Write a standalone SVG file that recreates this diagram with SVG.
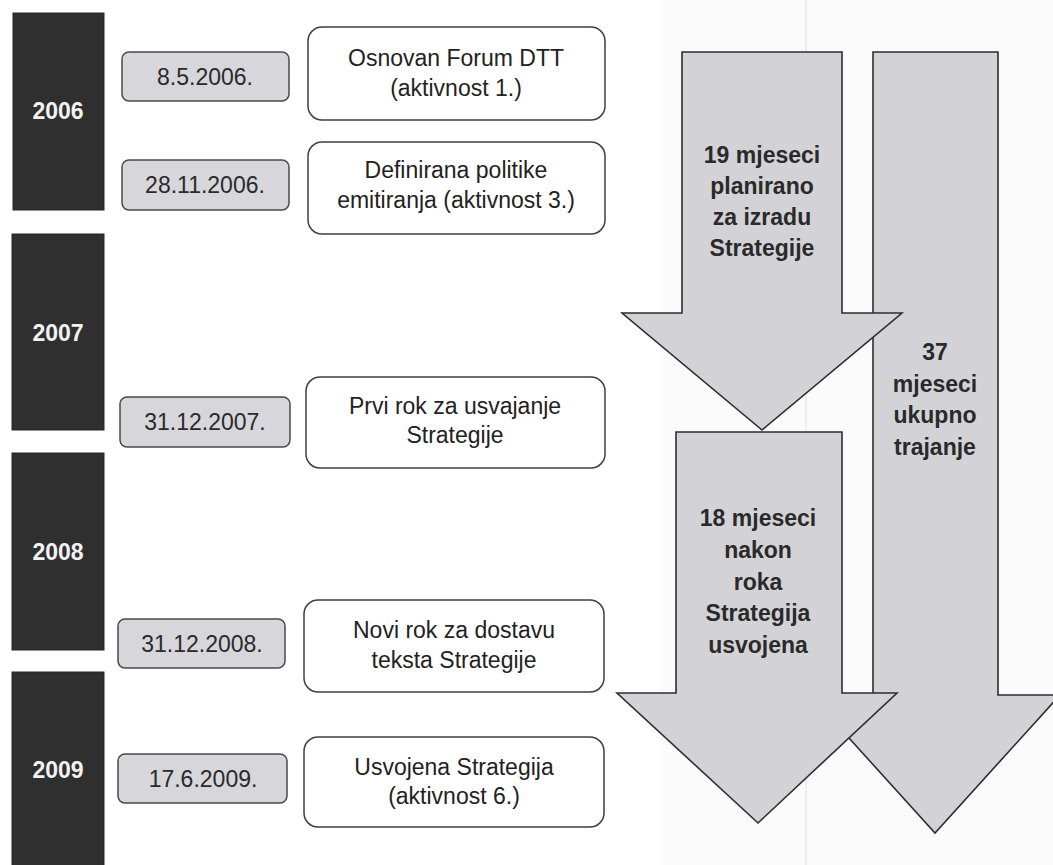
<svg xmlns="http://www.w3.org/2000/svg" width="1053" height="865" viewBox="0 0 1053 865">
<style>
.year{fill:#2f2f2f;stroke:#262626;stroke-width:1}
.ytxt{font-family:"Liberation Sans",Arial,sans-serif;font-weight:bold;font-size:23px;fill:#f2f2f2;text-anchor:middle}
.date{fill:#d6d6db;stroke:#4a4a4a;stroke-width:1.5}
.dtxt{font-family:"Liberation Sans",Arial,sans-serif;font-size:23px;fill:#2a2a2a;text-anchor:middle}
.ev{fill:#ffffff;stroke:#3f3f3f;stroke-width:1.5}
.etxt{font-family:"Liberation Sans",Arial,sans-serif;font-size:23px;fill:#222;text-anchor:middle}
.arr{fill:#d3d3d7;stroke:#2e2e2e;stroke-width:1.6;stroke-linejoin:miter}
.atxt{font-family:"Liberation Sans",Arial,sans-serif;font-weight:bold;font-size:23px;fill:#2a2a2a;text-anchor:middle}
</style>
<rect x="0" y="0" width="1053" height="865" fill="#ffffff"/>
<rect x="660" y="0" width="393" height="865" fill="#fbfbfb"/>
<line x1="806" y1="0" x2="806" y2="865" stroke="#e8e8e8" stroke-width="1.5"/>

<g id="year-2006"><rect class="year" x="13" y="13" width="91" height="197"/><text class="ytxt" x="58" y="119">2006</text></g>
<g id="year-2007"><rect class="year" x="12" y="234" width="92" height="196"/><text class="ytxt" x="58" y="341">2007</text></g>
<g id="year-2008"><rect class="year" x="12" y="453" width="92" height="197"/><text class="ytxt" x="58" y="560">2008</text></g>
<g id="year-2009"><rect class="year" x="12" y="672" width="92" height="200"/><text class="ytxt" x="58" y="778">2009</text></g>

<g id="date-1"><rect class="date" x="122" y="52" width="167" height="49" rx="7"/><text class="dtxt" x="205" y="85">8.5.2006.</text></g>
<g id="date-2"><rect class="date" x="122" y="160" width="167" height="50" rx="7"/><text class="dtxt" x="205" y="193">28.11.2006.</text></g>
<g id="date-3"><rect class="date" x="120" y="397" width="170" height="50" rx="7"/><text class="dtxt" x="205" y="430">31.12.2007.</text></g>
<g id="date-4"><rect class="date" x="118" y="619" width="167" height="49" rx="7"/><text class="dtxt" x="202" y="652">31.12.2008.</text></g>
<g id="date-5"><rect class="date" x="118" y="754" width="169" height="49" rx="7"/><text class="dtxt" x="203" y="787">17.6.2009.</text></g>

<g id="event-1"><rect class="ev" x="308" y="27" width="297" height="93" rx="14"/><text class="etxt" x="456" y="66">Osnovan Forum DTT</text><text class="etxt" x="456" y="96">(aktivnost 1.)</text></g>
<g id="event-2"><rect class="ev" x="308" y="142" width="297" height="92" rx="14"/><text class="etxt" x="456" y="178">Definirana politike</text><text class="etxt" x="456" y="208">emitiranja (aktivnost 3.)</text></g>
<g id="event-3"><rect class="ev" x="306" y="377" width="299" height="91" rx="14"/><text class="etxt" x="455" y="414">Prvi rok za usvajanje</text><text class="etxt" x="455" y="443">Strategije</text></g>
<g id="event-4"><rect class="ev" x="304" y="600" width="300" height="92" rx="14"/><text class="etxt" x="454" y="638">Novi rok za dostavu</text><text class="etxt" x="454" y="668">teksta Strategije</text></g>
<g id="event-5"><rect class="ev" x="304" y="737" width="300" height="90" rx="14"/><text class="etxt" x="454" y="775">Usvojena Strategija</text><text class="etxt" x="454" y="804">(aktivnost 6.)</text></g>

<g id="connectors">
<g id="arrow-total"><polygon class="arr" points="873,52 998,52 998,695 1060,695 935,833 810,695 873,695"/>
<text class="atxt" x="935" y="360">37</text><text class="atxt" x="935" y="392">mjeseci</text><text class="atxt" x="935" y="423">ukupno</text><text class="atxt" x="935" y="455">trajanje</text></g>
<g id="arrow-planned"><polygon class="arr" points="682,52 842,52 842,313 902,313 762,430 622,313 682,313"/>
<text class="atxt" x="762" y="163">19 mjeseci</text><text class="atxt" x="762" y="194">planirano</text><text class="atxt" x="762" y="225">za izradu</text><text class="atxt" x="762" y="256">Strategije</text></g>
<g id="arrow-late"><polygon class="arr" points="676,432 842,432 842,693 897,693 758,823 617,693 676,693"/>
<text class="atxt" x="758" y="526">18 mjeseci</text><text class="atxt" x="758" y="558">nakon</text><text class="atxt" x="758" y="590">roka</text><text class="atxt" x="758" y="621">Strategija</text><text class="atxt" x="758" y="653">usvojena</text></g>
</g>
</svg>
